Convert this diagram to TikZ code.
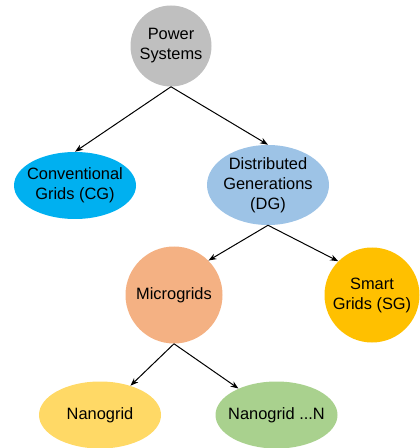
\documentclass[tikz,border=0pt]{standalone}
\usepackage{fontspec}
\setmainfont{Liberation Sans}
\usetikzlibrary{arrows.meta,shapes.geometric}
\definecolor{cgray}{HTML}{BFBFBF}
\definecolor{cblue}{HTML}{00B0F0}
\definecolor{clblue}{HTML}{9DC3E6}
\definecolor{csalmon}{HTML}{F4B183}
\definecolor{cgold}{HTML}{FFC000}
\definecolor{cyellow}{HTML}{FFD966}
\definecolor{cgreen}{HTML}{A9D18E}
\begin{document}
\begin{tikzpicture}[x=0.75pt,y=-0.75pt,
  every node/.style={font=\fontsize{12.3}{15}\selectfont, align=center, inner sep=0pt, draw=none},
  circ/.style={circle, minimum size=#1},
  ell/.style={ellipse, minimum width=91.5pt, minimum height=#1},
  txt/.style={label={[align=center, font=\fontsize{12.3}{15}\selectfont]center:#1}},
  conn/.style={-{Stealth[length=6pt,width=4.5pt]}, line width=0.75pt, black}]
\useasboundingbox (0,0) rectangle (419,448);
\node[circ=60.75pt, fill=cgray] (ps) at (171,46) {Power\\Systems};
\node[ell=50.25pt, fill=cblue, txt={Conventional\\Grids (CG)}] (cg) at (75,185.5) {};
\node[ell=60pt, fill=clblue, txt={Distributed\\Generations\\(DG)}] (dg) at (268,185) {};
\node[circ=72.75pt, fill=csalmon] (mg) at (174,295) {Microgrids};
\node[circ=71.25pt, fill=cgold] (sg) at (372,295) {Smart\\Grids (SG)};
\node[ell=50.25pt, fill=cyellow, txt={Nanogrid}] (ng) at (100,415) {};
\node[ell=50.25pt, fill=cgreen, txt={Nanogrid ...N}] (ngn) at (276.5,415) {};
\draw[conn] (ps.south) -- (cg.north);
\draw[conn] (ps.south) -- (dg.north);
\draw[conn] (dg.south) -- (mg.north east);
\draw[conn] (dg.south) -- (sg.north west);
\draw[conn] (mg.south) -- (ng);
\draw[conn] (mg.south) -- (ngn);
\end{tikzpicture}
\end{document}
